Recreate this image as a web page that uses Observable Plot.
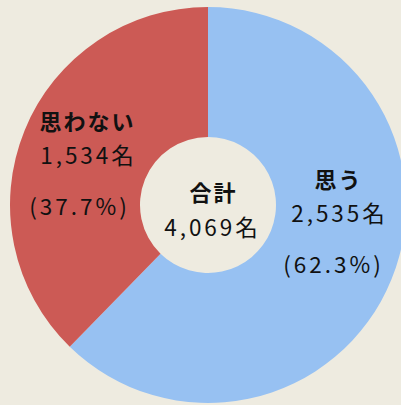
<!DOCTYPE html>
<html><head><meta charset="utf-8">
<script src="https://cdn.jsdelivr.net/npm/d3@7"></script>
<script src="https://cdn.jsdelivr.net/npm/@observablehq/plot@0.6"></script>
<style>
html,body{margin:0;padding:0;background:#eeebe0;}
#chart svg{display:block;background:#eeebe0;}
#chart g[font-weight="bold"] text{letter-spacing:2px;}
#chart g.numtxt text, #chart g[font-size="22.5"] text{letter-spacing:3px;}
</style></head>
<body><div id="chart"></div>
<script>
const categories = ["思う", "思わない"];
const counts = [2535, 1534];
const percents = ["62.3%", "37.7%"];
const totalLabel = "合計";
const total = 4069;
const colors = ["#97c1f2", "#cc5a55"];

const W = 401, H = 405, cx = 208, cy = 205, R = 198, r0 = 68;
const pie = d3.pie().sort(null).value(d => d.count);
const slices = pie(categories.map((c, i) => ({category: c, count: counts[i], pct: percents[i], color: colors[i]})));
const fmt = d3.format(",");

// label anchor offsets (layout, not data)
const labelPos = {"思う": [130, -25], "思わない": [-121, -83]};
const labelRows = [];
slices.forEach(s => {
  const [ox, oy] = labelPos[s.data.category];
  const isYes = s.data.category === "思う";
  labelRows.push({x: ox, y: oy, text: s.data.category, bold: true});
  labelRows.push({x: ox + 1, y: oy + 34, text: fmt(s.data.count) + "名", bold: false});
  labelRows.push({x: ox - (isYes ? 5 : 8), y: oy + 85, text: "(" + s.data.pct + ")", bold: false});
});
labelRows.push({x: 5, y: -12, text: totalLabel, bold: true});
labelRows.push({x: 4, y: 23, text: fmt(total) + "名", bold: false});

const donutMark = (index, scales) => {
  const X = scales.x, Y = scales.y;
  const pxC = X(0), pyC = Y(0);
  const rad = Math.abs(X(R) - X(0));
  const radIn = Math.abs(X(r0) - X(0));
  const arc = d3.arc().innerRadius(radIn).outerRadius(rad);
  const g = d3.create("svg:g");
  g.selectAll("path").data(slices).join("path")
    .attr("transform", `translate(${pxC},${pyC})`)
    .attr("d", arc)
    .attr("fill", d => d.data.color);
  return g.node();
};

const chart = Plot.plot({
  width: W, height: H,
  margin: 0,
  style: {background: "#eeebe0", fontFamily: "'Noto Sans CJK JP', sans-serif"},
  x: {domain: [-cx, W - cx], range: [0, W], axis: null},
  y: {domain: [-cy, H - cy], range: [0, H], axis: null},
  marks: [
    donutMark,
    Plot.text(labelRows.filter(d => d.bold), {x: "x", y: "y", text: "text", fontSize: 22, fontWeight: "bold", fill: "#111"}),
    Plot.text(labelRows.filter(d => !d.bold), {x: "x", y: "y", text: "text", fontSize: 22.5, fill: "#111"})
  ]
});
document.getElementById("chart").append(chart);
</script></body></html>
